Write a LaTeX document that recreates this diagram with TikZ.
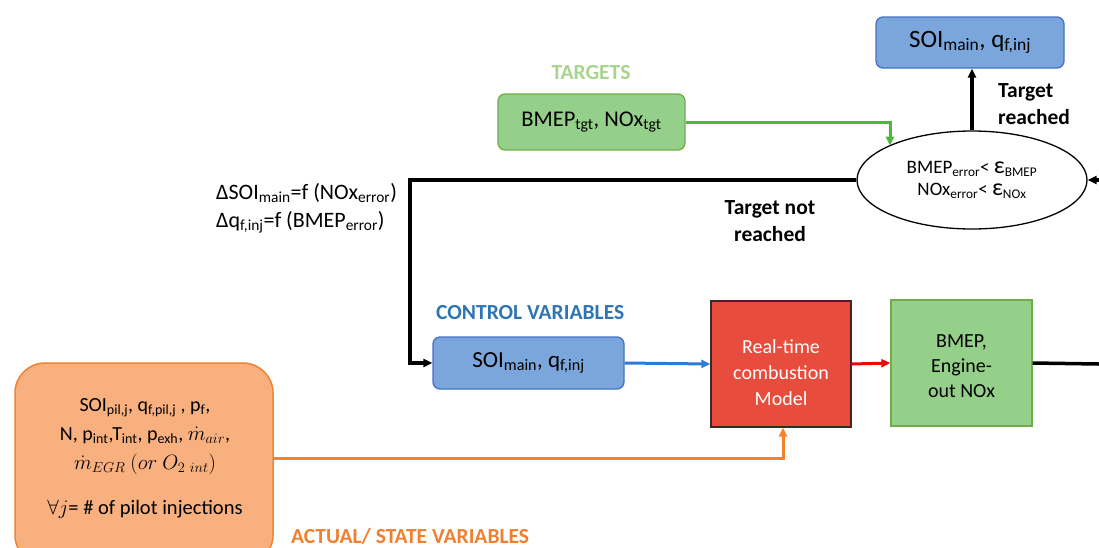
\documentclass[tikz,border=0pt]{standalone}
\usepackage{fontspec}
\setmainfont{Carlito}
\usetikzlibrary{arrows.meta,shapes.geometric,calc}
\newcommand\sub[1]{\textsubscript{#1}}
\newcommand\fsz[2]{\fontsize{#1}{#2}\selectfont}
\newcommand\eps{{\fsz{24}{22}ε}}
\definecolor{bluefill}{RGB}{123,166,220}
\definecolor{bluedraw}{RGB}{68,114,196}
\definecolor{greenfill}{RGB}{149,208,138}
\definecolor{greendraw}{RGB}{112,173,71}
\definecolor{tgtgreen}{RGB}{169,212,142}
\definecolor{greenline}{RGB}{76,184,64}
\definecolor{ctrlblue}{RGB}{46,117,182}
\definecolor{blueline}{RGB}{46,123,214}
\definecolor{redfill}{RGB}{231,76,60}
\definecolor{reddraw}{RGB}{60,40,40}
\definecolor{redline}{RGB}{230,10,10}
\definecolor{orgfill}{RGB}{248,176,126}
\definecolor{orgdraw}{RGB}{240,130,50}
\definecolor{orgline}{RGB}{245,130,40}
\definecolor{orglab}{RGB}{240,128,48}
\begin{document}
\begin{tikzpicture}[x=1pt,y=-1pt,
  tip/.style={-{Triangle[length=9pt,width=8pt]}},
  bbox/.style={draw=bluedraw,fill=bluefill,line width=1.3pt,rounded corners=7pt,inner sep=0pt},
  gbox/.style={draw=greendraw,fill=greenfill,line width=1.3pt,inner sep=0pt},
  lab/.style={font=\bfseries\fsz{21.5}{26},inner sep=0pt},
  blk/.style={line width=3.5pt,black},
  col/.style={line width=3pt},
  ]
\useasboundingbox (0,0) rectangle (1099,547);
\clip (0,0) rectangle (1099,547);

% top result box
\node[bbox,minimum width=188,minimum height=51,font=\fsz{25}{28}] (top) at (970,42.5) {SOI\sub{main}, q\sub{f,inj}};
% ellipse
\node[ellipse,draw=black,line width=1.3pt,fill=white,minimum width=230,minimum height=98,inner sep=0pt,align=center,font=\fsz{19}{22}] (ell) at (972,180) {BMEP\sub{error}< \eps\sub{BMEP}\\NOx\sub{error}< \eps\sub{NOx}};
\node[font=\bfseries\fsz{21.5}{27},align=left,anchor=west,inner sep=0pt] (tr) at (998,104) {Target\\reached};

% targets
\node[lab,text=tgtgreen] (tgtlab) at (591,73) {TARGETS};
\node[gbox,rounded corners=7pt,minimum width=187,minimum height=56,font=\fsz{22.5}{26}] (tgt) at (591.5,122) {BMEP\sub{tgt}, NOx\sub{tgt}};

% feedback text
\node[font=\fsz{22}{28},align=left,anchor=west,inner sep=0pt] (dtext) at (216,208) {ΔSOI\sub{main}=f (NOx\sub{error})\\Δq\sub{f,inj}=f (BMEP\sub{error})};
\node[font=\bfseries\fsz{21.5}{27},align=center,inner sep=0pt] (tnr) at (770,221) {Target not\\reached};

% control
\node[lab,text=ctrlblue,anchor=west] (ctrllab) at (436,313) {CONTROL VARIABLES};
\node[bbox,minimum width=191,minimum height=52,font=\fsz{23}{26}] (cbox) at (528.5,363) {SOI\sub{main}, q\sub{f,inj}};

% model
\node[draw=reddraw,fill=redfill,line width=1.3pt,minimum width=140,minimum height=126,inner sep=0pt] (rbox) at (781,364) {};
\node[align=center,text=white,font=\fsz{20}{26},inner sep=0pt] (rtext) at (781,373) {Real-time\\combustion\\Model};
\node[gbox,minimum width=141,minimum height=126] (gbox) at (961.5,363) {};
\node[align=center,font=\fsz{20}{25},inner sep=0pt] (gtext) at (961.5,366) {BMEP,\\Engine-\\out NOx};

% actual/state
\node[draw=orgdraw,fill=orgfill,line width=1.5pt,rounded corners=30pt,minimum width=258,minimum height=202,inner sep=0pt] (obox) at (144,464) {};
\node[font=\fsz{20}{29},align=center,inner sep=0pt,anchor=north] (otext) at (145,398) {SOI\sub{pil,j}, q\sub{f,pil,j} , p\sub{f},\\N, p\sub{int},T\sub{int}, p\sub{exh}, $\dot{m}_{air}$,\\{\fsz{22}{29}$\dot{m}_{EGR}\ (or\ O_{2\ int})$}\\[16pt]{\fsz{20.5}{29}$\forall j$= \# of pilot injections}};
\node[lab,text=orglab,anchor=west] (actlab) at (291,536) {ACTUAL/ STATE VARIABLES};

% coordinates
\coordinate (rin) at (1099,180);
\coordinate (gin) at (890,145.6);
\coordinate (fb) at (410,180);
\coordinate (rout) at (1099,364);
\coordinate (oy) at (0,458);
\coordinate (ox) at (783,0);

% connectors
\draw[blk,tip] (ell.north) -- (ell.north |- top.south);
\draw[blk,tip] (rin) -- (ell.east);
\draw[greenline,col,tip] (tgt.east) -| (gin);
\draw[blk,tip] (ell.west) -- (fb) |- (cbox.west);
\draw[blueline,col,tip] (cbox.east) -- (rbox.west);
\draw[redline,col,tip] (rbox.east) -- (gbox.west);
\draw[blk] (gbox.east) -- (rout);
\draw[orgline,col,tip] (obox.east |- oy) -| (ox |- rbox.south);
\end{tikzpicture}
\end{document}
